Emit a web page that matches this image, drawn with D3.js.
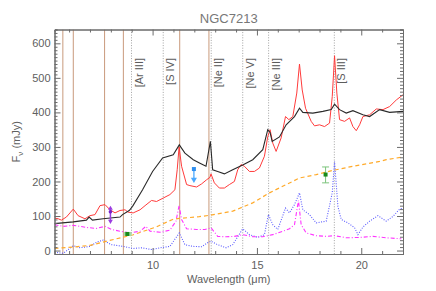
<!DOCTYPE html>
<html>
<head>
<meta charset="utf-8">
<script src="https://cdn.jsdelivr.net/npm/d3@7"></script>
<style>
  body { margin: 0; background: #fff; }
  svg { display: block; font-family: "Liberation Sans", Arial, sans-serif; }
</style>
</head>
<body>
<svg id="chart" width="436" height="291"></svg>
<script>
// spectra (wavelength in micron, flux in mJy)
const blackWave = [5.3, 6.2, 6.83, 6.96, 7.12, 7.63, 8.44, 8.56, 8.88, 9.04, 9.52, 10.0, 10.48, 10.99, 11.28, 11.55, 11.95, 12.27, 12.56, 12.77, 12.88, 13.12, 13.44, 13.84, 14.32, 14.8, 15.28, 15.52, 15.63, 15.73, 16.08, 16.4, 16.8, 17.04, 17.2, 17.68, 18.16, 18.56, 18.72, 18.96, 19.28, 19.6, 20.08, 20.4, 20.88, 21.36, 22.0]
const blackFlux = [78, 83, 88, 97, 88, 92, 97, 104, 116, 128, 176, 229, 268, 277, 306, 282, 263, 253, 244, 316, 234, 229, 222, 234, 248, 263, 292, 350, 342, 316, 329, 364, 388, 412, 400, 398, 403, 408, 424, 408, 398, 405, 393, 388, 408, 400, 403]

const redWave = [5.3, 5.48, 5.63, 5.87, 6.2, 6.43, 6.76, 7.0, 7.24, 7.48, 7.72, 7.96, 8.2, 8.44, 8.68, 8.83, 9.07, 9.4, 9.64, 9.95, 10.19, 10.51, 10.83, 11.07, 11.18, 11.27, 11.39, 11.63, 11.79, 12.11, 12.35, 12.59, 12.75, 12.8, 12.96, 13.2, 13.44, 13.68, 13.92, 14.08, 14.24, 14.4, 14.64, 14.88, 15.12, 15.36, 15.52, 15.63, 15.76, 15.92, 16.16, 16.37, 16.53, 16.72, 16.91, 17.04, 17.17, 17.33, 17.6, 17.76, 18.0, 18.24, 18.48, 18.61, 18.72, 18.83, 18.96, 19.2, 19.44, 19.6, 19.76, 19.92, 20.08, 20.4, 20.72, 21.04, 21.36, 21.68, 22.0]
const redFlux = [94, 92, 88, 97, 120, 101, 92, 101, 104, 130, 133, 118, 109, 116, 118, 111, 109, 118, 130, 145, 142, 152, 162, 176, 234, 300, 244, 191, 188, 184, 193, 205, 212, 222, 196, 181, 181, 191, 200, 234, 249, 244, 229, 229, 239, 273, 330, 350, 311, 287, 326, 388, 379, 388, 456, 540, 465, 412, 374, 361, 364, 359, 369, 446, 564, 456, 379, 374, 384, 359, 347, 364, 388, 393, 410, 408, 417, 436, 451]

const orangeWave = [5.3, 6.2, 7.0, 8.2, 9.04, 10.16, 10.96, 11.28, 12.24, 12.72, 13.84, 14.8, 15.6, 16.4, 17.04, 17.84, 18.64, 19.6, 20.88, 21.2, 22.0]
const orangeFlux = [6, 10, 15, 33, 45, 68, 90, 93, 98, 102, 114, 138, 167, 191, 210, 220, 232, 244, 258, 263, 271]

const magWave = [5.3, 5.72, 6.2, 6.83, 7.31, 7.72, 8.03, 8.44, 8.92, 9.4, 9.68, 9.88, 10.36, 10.83, 11.12, 11.27, 11.39, 11.63, 12.11, 12.51, 12.8, 13.12, 13.52, 13.92, 14.32, 14.8, 15.28, 15.76, 16.24, 16.56, 16.8, 16.99, 17.12, 17.36, 17.84, 18.32, 18.72, 19.28, 19.92, 20.56, 21.2, 21.92]
const magFlux = [75, 70, 73, 67, 64, 70, 61, 56, 51, 56, 70, 56, 53, 59, 85, 130, 90, 63, 61, 61, 66, 41, 40, 41, 46, 40, 40, 46, 56, 63, 75, 145, 75, 51, 43, 41, 43, 37, 38, 41, 37, 34]

const blueWave = [5.3, 5.72, 6.2, 6.52, 7.0, 7.31, 7.63, 8.03, 8.59, 9.07, 9.47, 9.95, 10.36, 10.83, 11.28, 11.55, 11.95, 12.35, 12.67, 12.8, 13.12, 13.52, 13.84, 14.32, 14.64, 15.04, 15.36, 15.55, 15.76, 16.0, 16.37, 16.56, 16.8, 17.04, 17.2, 17.52, 17.84, 18.32, 18.61, 18.72, 18.88, 19.04, 19.36, 19.68, 19.84, 20.08, 20.4, 20.8, 21.2, 21.52, 21.84, 22.0]
const blueFlux = [-5, -8, 14, 8, 12, 24, 30, 17, 12, 6, 8, 3, 8, 12, 51, 17, 12, 11, 24, 27, 17, 8, 17, 63, 46, 38, 46, 104, 75, 61, 123, 109, 133, 167, 118, 104, 80, 85, 167, 258, 128, 90, 80, 66, 46, 68, 85, 101, 85, 99, 120, 123]

// feature markers
const pahWave = [5.7, 6.2, 7.7, 8.6, 11.3, 12.7]
const lineWave = [8.99, 10.51, 12.81, 14.32, 15.56, 18.71]
const lineNames = ["[Ar III]", "[S IV]", "[Ne II]", "[Ne V]", "[Ne III]", "[S III]"]

// photometry points
const purplePt = {wave: 7.98, flux: 112, lo: 85, hi: 122}
const greenPtA = {wave: 8.79, flux: 48, wlo: 8.63, whi: 9.0}
const bluePt = {wave: 11.98, flux: 236, to: 200}
const greenPtB = {wave: 18.29, flux: 220, lo: 196, hi: 242}

const xTicks = [10, 15, 20]
const yTicks = [0, 100, 200, 300, 400, 500, 600]

var marge = {top: 29.5, bottom: 37, left: 54.5, right: 33}
var svg = d3.select("#chart")
var width = +svg.attr("width")
var height = +svg.attr("height")
var x0 = marge.left, x1 = width - marge.right
var y0 = marge.top, y1 = height - marge.bottom

var xScale = d3.scaleLinear().domain([5.3, 22]).range([x0, x1])
var yScale = d3.scaleLinear().domain([-10, 640]).range([y1, y0])

svg.append("defs").append("clipPath").attr("id", "clip")
  .append("rect").attr("x", x0).attr("y", y0).attr("width", x1 - x0).attr("height", y1 - y0)

var axisColor = "#6b6b6b"
var textColor = "#606060"

// vertical feature lines
var plot = svg.append("g").attr("clip-path", "url(#clip)")
plot.selectAll("line.pah").data(pahWave).join("line").attr("class", "pah")
  .attr("x1", d => xScale(d)).attr("x2", d => xScale(d))
  .attr("y1", y0).attr("y2", y1)
  .attr("stroke", "#c99a7c").attr("stroke-width", 1)
plot.selectAll("line.fs").data(lineWave).join("line").attr("class", "fs")
  .attr("x1", d => xScale(d)).attr("x2", d => xScale(d))
  .attr("y1", y0).attr("y2", y1)
  .attr("stroke", "#8a8a8a").attr("stroke-width", 0.8).attr("stroke-dasharray", "1,1.6")

svg.selectAll("text.fs").data(lineNames).join("text").attr("class", "fs")
  .attr("transform", (d, i) => "translate(" + (xScale(lineWave[i]) + 11) + "," + 58 + ") rotate(-90)")
  .attr("text-anchor", "end")
  .style("font-size", "11px")
  .attr("fill", "#5c5c5c")
  .text(d => d)

// spectra
function curve(wave, flux) {
  return d3.line().x(d => xScale(d[0])).y(d => yScale(d[1]))(d3.zip(wave, flux))
}
plot.append("path").attr("d", curve(blueWave, blueFlux))
  .attr("fill", "none").attr("stroke", "#5a5aff").attr("stroke-width", 1.1).attr("stroke-dasharray", "1,1.5")
plot.append("path").attr("d", curve(magWave, magFlux))
  .attr("fill", "none").attr("stroke", "#ff33ff").attr("stroke-width", 1.1).attr("stroke-dasharray", "4,2,1,2")
plot.append("path").attr("d", curve(orangeWave, orangeFlux))
  .attr("fill", "none").attr("stroke", "#ffaa2a").attr("stroke-width", 1.2).attr("stroke-dasharray", "4,3")
plot.append("path").attr("d", curve(redWave, redFlux))
  .attr("fill", "none").attr("stroke", "#ff3b3b").attr("stroke-width", 1)
plot.append("path").attr("d", curve(blackWave, blackFlux))
  .attr("fill", "none").attr("stroke", "#2a2a2a").attr("stroke-width", 1.1)

// photometry
var pts = svg.append("g")
// purple point with error bar
pts.append("line")
  .attr("x1", xScale(purplePt.wave)).attr("x2", xScale(purplePt.wave))
  .attr("y1", yScale(purplePt.lo)).attr("y2", yScale(purplePt.hi))
  .attr("stroke", "#9b3ce0").attr("stroke-width", 1.5)
pts.selectAll("path.pcap").data([purplePt.lo, purplePt.hi]).join("path").attr("class", "pcap")
  .attr("d", d3.symbol().type(d3.symbolTriangle).size(10))
  .attr("transform", (d, i) => "translate(" + xScale(purplePt.wave) + "," + yScale(d) + ") rotate(" + (i === 0 ? 180 : 0) + ")")
  .attr("fill", "#9b3ce0")
pts.append("circle").attr("cx", xScale(purplePt.wave)).attr("cy", yScale(purplePt.flux)).attr("r", 1.8)
  .attr("fill", "#7a22c8")

// green point with horizontal bar
pts.append("line")
  .attr("x1", xScale(greenPtA.wlo)).attr("x2", xScale(greenPtA.whi))
  .attr("y1", yScale(greenPtA.flux)).attr("y2", yScale(greenPtA.flux))
  .attr("stroke", "#a6dca6").attr("stroke-width", 4)
pts.append("rect").attr("x", xScale(greenPtA.wave) - 2).attr("y", yScale(greenPtA.flux) - 2)
  .attr("width", 4).attr("height", 4).attr("fill", "#1a8a1a")

// blue upper limit arrow
pts.append("line")
  .attr("x1", xScale(bluePt.wave)).attr("x2", xScale(bluePt.wave))
  .attr("y1", yScale(bluePt.flux)).attr("y2", yScale(bluePt.to) - 2)
  .attr("stroke", "#4aa8ff").attr("stroke-width", 1.3)
pts.append("path")
  .attr("d", d3.symbol().type(d3.symbolTriangle).size(16))
  .attr("transform", "translate(" + xScale(bluePt.wave) + "," + (yScale(bluePt.to) - 2) + ") rotate(180)")
  .attr("fill", "#4aa8ff")
pts.append("rect").attr("x", xScale(bluePt.wave) - 2).attr("y", yScale(bluePt.flux) - 2)
  .attr("width", 4).attr("height", 4).attr("fill", "#2f8ff0")

// green point with vertical error bar
var gx = xScale(greenPtB.wave)
pts.append("line").attr("x1", gx).attr("x2", gx)
  .attr("y1", yScale(greenPtB.lo)).attr("y2", yScale(greenPtB.hi))
  .attr("stroke", "#7cc47c").attr("stroke-width", 1)
pts.selectAll("line.gcap").data([greenPtB.lo, greenPtB.hi]).join("line").attr("class", "gcap")
  .attr("x1", gx - 3.5).attr("x2", gx + 3.5)
  .attr("y1", d => yScale(d)).attr("y2", d => yScale(d))
  .attr("stroke", "#7cc47c").attr("stroke-width", 1)
pts.append("rect").attr("x", gx - 2).attr("y", yScale(greenPtB.flux) - 2)
  .attr("width", 4).attr("height", 4).attr("fill", "#1a8a1a")

// axes, ticks inward on all four sides
var minorX = d3.range(6, 23).filter(d => !xTicks.includes(d))
var minorY = d3.range(-10, 641, 10).filter(d => !yTicks.includes(d))

function styleAxis(g) {
  g.selectAll("path.domain").attr("stroke", axisColor)
  g.selectAll(".tick line").attr("stroke", axisColor)
  g.selectAll(".tick text").attr("fill", textColor).style("font-size", "11px")
  g.attr("font-family", null)
}

svg.append("g").attr("transform", "translate(0," + y1 + ")")
  .call(d3.axisBottom(xScale).tickValues(xTicks).tickSizeInner(-6).tickSizeOuter(0).tickPadding(7))
  .call(styleAxis)
svg.append("g").attr("transform", "translate(0," + y1 + ")")
  .call(d3.axisBottom(xScale).tickValues(minorX).tickSize(-3).tickFormat(""))
  .call(styleAxis)
svg.append("g").attr("transform", "translate(0," + y0 + ")")
  .call(d3.axisTop(xScale).tickValues(xTicks).tickSizeInner(-6).tickSizeOuter(0).tickFormat(""))
  .call(styleAxis)
svg.append("g").attr("transform", "translate(0," + y0 + ")")
  .call(d3.axisTop(xScale).tickValues(minorX).tickSize(-3).tickFormat(""))
  .call(styleAxis)

svg.append("g").attr("transform", "translate(" + x0 + ",0)")
  .call(d3.axisLeft(yScale).tickValues(yTicks).tickSizeInner(-6).tickSizeOuter(0).tickPadding(4))
  .call(styleAxis)
svg.append("g").attr("transform", "translate(" + x0 + ",0)")
  .call(d3.axisLeft(yScale).tickValues(minorY).tickSize(-3).tickFormat(""))
  .call(styleAxis)
svg.append("g").attr("transform", "translate(" + x1 + ",0)")
  .call(d3.axisRight(yScale).tickValues(yTicks).tickSizeInner(-6).tickSizeOuter(0).tickFormat(""))
  .call(styleAxis)
svg.append("g").attr("transform", "translate(" + x1 + ",0)")
  .call(d3.axisRight(yScale).tickValues(minorY).tickSize(-3).tickFormat(""))
  .call(styleAxis)

// titles
svg.append("text").attr("x", (x0 + x1) / 2).attr("y", 22.5)
  .attr("text-anchor", "middle").style("font-size", "13px").attr("fill", "#777")
  .text("NGC7213")

svg.append("text").attr("x", (x0 + x1) / 2).attr("y", 283)
  .attr("text-anchor", "middle").style("font-size", "11px").attr("fill", textColor)
  .text("Wavelength (\u03bcm)")

var ylab = svg.append("text")
  .attr("transform", "translate(20," + ((y0 + y1) / 2) + ") rotate(-90)")
  .attr("text-anchor", "middle").style("font-size", "11px").attr("fill", textColor)
ylab.append("tspan").text("F")
ylab.append("tspan").attr("dy", 3).style("font-size", "8px").text("\u03bd")
ylab.append("tspan").attr("dy", -3).text(" (mJy)")
</script>
</body>
</html>
